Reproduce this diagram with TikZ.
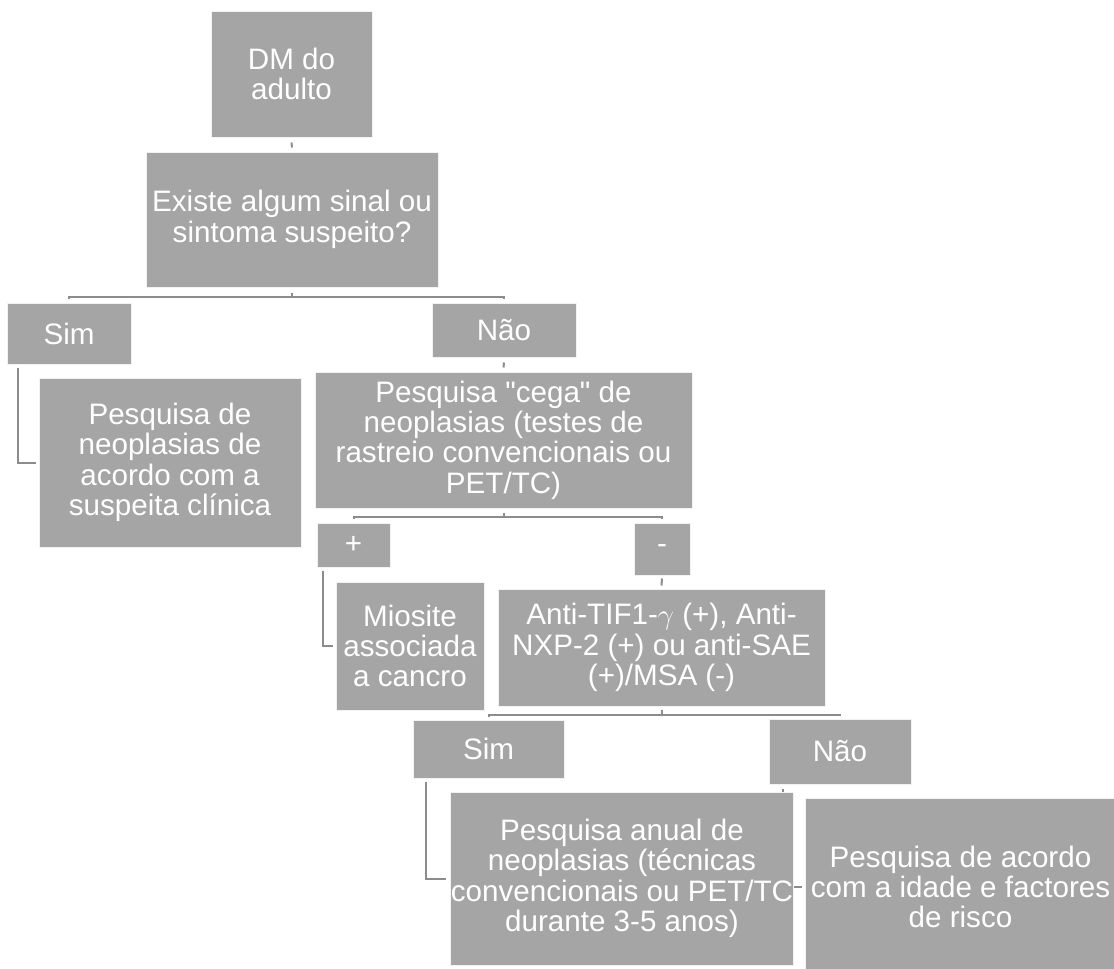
\documentclass[tikz,border=0pt]{standalone}
\usepackage{fontspec}
\setmainfont{Liberation Sans}
\usetikzlibrary{positioning, backgrounds, calc}
\definecolor{boxgray}{RGB}{165,165,165}
\definecolor{linkgray}{RGB}{140,140,140}

\begin{document}
\begin{tikzpicture}[
    x=0.5pt, y=-0.5pt,
    box/.style={rectangle, fill=boxgray, draw=white!85!boxgray, line width=0.5pt, text=white, align=center, inner sep=0pt, font=\fontsize{14.8}{15.2}\selectfont},
    wh/.style 2 args={minimum width=#1*0.5pt, minimum height=#2*0.5pt},
    link/.style={draw=linkgray, line width=1pt}
]
\useasboundingbox (0,0) rectangle (1114,969);

% Root and first question
\node[box, wh={161}{126}] (dm) at (291.5,74) {DM do\\adulto};
\node[box, wh={292}{135}] (sinal) at (292,219.5) {Existe algum sinal ou\\sintoma suspeito?};

% First answers
\node[box, wh={124}{61}] (sim) at (69,333.5) {Sim};
\node[box, wh={144}{54}] (nao) at (504,330) {Não};
\node[box, wh={262}{169}] (pesqclin) at (170,462.5) {Pesquisa de\\neoplasias de\\acordo com a\\suspeita clínica};
\node[box, wh={377}{136}] (cega) at (503.5,440) {Pesquisa \textquotedbl cega\textquotedbl{} de\\neoplasias (testes de\\rastreio convencionais ou\\PET/TC)};

% Screening result
\node[box, wh={73}{44}] (pos) at (353.5,545) {+};
\node[box, wh={56}{52}] (neg) at (662,549) {-};
\node[box, wh={148}{128}] (miosite) at (410,646) {Miosite\\associada\\a cancro};
\node[box, wh={327}{117}] (anti) at (661.5,647.5) {Anti-TIF1-$\gamma$ (+), Anti-\\NXP-2 (+) ou anti-SAE\\(+)/MSA (-)};

% Antibody answers
\node[box, wh={151}{58}] (simb) at (488.5,749) {Sim};
\node[box, wh={142}{65}] (naob) at (840,751.5) {Não};
\node[box, wh={340}{173}] (anual) at (622,878.5) {Pesquisa anual de\\neoplasias (técnicas\\convencionais ou PET/TC\\durante 3-5 anos)};
\node[box, wh={311}{178}] (idade) at (960.5,887) {Pesquisa de acordo\\com a idade e factores\\de risco};

% Connectors
\begin{scope}[on background layer]
\draw[link] ($(dm.south)+(0,5)$) -- ($(sinal.north)+(0,-4)$);
\draw[link] ($(sinal.south)+(0,5)$) -- ++(0,4) -| ($(sim.north)+(0,-4)$);
\draw[link] ($(sinal.south)+(0,5)$) -- ++(0,4) -| ($(nao.north)+(0,-4)$);
\draw[link] ($(sim.south west)+(11,3)$) |- ($(pesqclin.west)+(-3,0)$);
\draw[link] ($(nao.south)+(0,5)$) -- ($(cega.north)+(0,-4)$);
\draw[link] ($(cega.south)+(0,4)$) -- ++(0,4) -| ($(pos.north)+(0,-4)$);
\draw[link] ($(cega.south)+(0,4)$) -- ++(0,4) -| ($(neg.north)+(0,-4)$);
\draw[link] ($(pos.south west)+(6,3)$) |- ($(miosite.west)+(-3,0)$);
\draw[link] ($(neg.south)+(0,3)$) -- ($(anti.north)+(0,-3)$);
\draw[link] ($(anti.south)+(0,3)$) -- ++(0,5) -| ($(simb.north)+(0,-3)$);
\draw[link] ($(anti.south)+(0,3)$) -- ++(0,5) -| ($(naob.north)+(0,-3)$);
\draw[link] ($(simb.south west)+(13,3)$) |- ($(anual.west)+(-4,0)$);
\draw[link] ($(naob.south west)+(14,4)$) |- ($(idade.west)+(-3,0)$);
\end{scope}

\end{tikzpicture}
\end{document}
